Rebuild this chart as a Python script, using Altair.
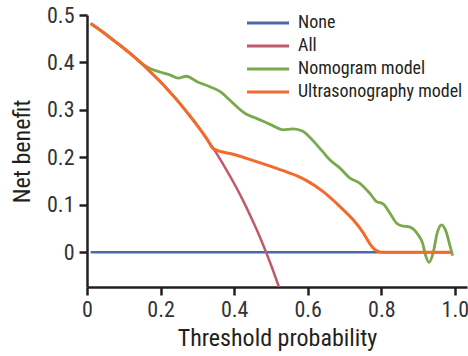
import altair as alt
import pandas as pd

FONT = "Roboto Condensed, Liberation Sans Narrow, Roboto, sans-serif"
INK = "#231F20"

series_names = ["None", "All", "Nomogram model", "Ultrasonography model"]
series_colors = ["#4B6AA8", "#C0596A", "#7AA84C", "#F26B2B"]

x_ticks = [0, 0.2, 0.4, 0.6, 0.8, 1.0]
y_ticks = [0, 0.1, 0.2, 0.3, 0.4, 0.5]

none_t = [0.01, 0.99]
none_nb = [0.0, 0.0]

all_t = [0.01, 0.025, 0.05, 0.075, 0.10, 0.125, 0.15, 0.175, 0.20, 0.225, 0.25,
         0.275, 0.30, 0.325, 0.35, 0.375, 0.40, 0.425, 0.45, 0.475, 0.50, 0.525]
all_nb = [0.482, 0.474, 0.460, 0.445, 0.430, 0.414, 0.397, 0.378, 0.359, 0.338, 0.316,
          0.292, 0.267, 0.240, 0.211, 0.179, 0.145, 0.108, 0.067, 0.023, -0.026, -0.080]

nomo_t = [0.01, 0.025, 0.05, 0.075, 0.10, 0.125, 0.139, 0.17, 0.198, 0.225, 0.248,
          0.270, 0.298, 0.334, 0.361, 0.388, 0.411, 0.429, 0.455, 0.479, 0.505, 0.533,
          0.56, 0.587, 0.605, 0.624, 0.642, 0.66, 0.687, 0.714, 0.741, 0.768, 0.787,
          0.805, 0.823, 0.841, 0.855, 0.878, 0.90, 0.912, 0.921, 0.93, 0.941, 0.952,
          0.964, 0.976, 0.987, 0.994]
nomo_nb = [0.482, 0.474, 0.460, 0.445, 0.430, 0.414, 0.404, 0.388, 0.380, 0.374, 0.367,
           0.371, 0.360, 0.349, 0.339, 0.321, 0.304, 0.293, 0.284, 0.276, 0.267, 0.258,
           0.260, 0.255, 0.243, 0.227, 0.211, 0.195, 0.178, 0.157, 0.146, 0.125, 0.107,
           0.102, 0.083, 0.062, 0.056, 0.053, 0.037, 0.020, -0.008, -0.021, -0.001, 0.041,
           0.058, 0.044, 0.013, -0.007]

us_t = [0.01, 0.025, 0.05, 0.075, 0.10, 0.125, 0.15, 0.175, 0.20, 0.225, 0.25,
        0.275, 0.30, 0.325, 0.344, 0.40, 0.442, 0.50, 0.533, 0.574, 0.597, 0.642,
        0.687, 0.723, 0.751, 0.769, 0.782, 0.796, 0.81, 0.85, 0.90, 0.95, 0.99]
us_nb = [0.482, 0.474, 0.460, 0.445, 0.430, 0.414, 0.397, 0.378, 0.359, 0.338, 0.316,
         0.292, 0.267, 0.240, 0.218, 0.206, 0.196, 0.181, 0.172, 0.160, 0.151, 0.128,
         0.097, 0.069, 0.041, 0.018, 0.006, 0.001, 0.0, 0.0, 0.0, 0.0, 0.0]


def frame(name, t, nb):
    return pd.DataFrame({"t": t, "nb": nb, "model": name})


x_scale = alt.Scale(domain=[0, 1.033], nice=False, zero=False)
y_scale = alt.Scale(domain=[-0.073, 0.5], nice=False, zero=False)
color_scale = alt.Scale(domain=series_names, range=series_colors)

label_expr = "datum.value == 0 ? '0' : format(datum.value, '.1f')"

common_axis = dict(
    domainColor=INK, domainWidth=2.5, tickColor=INK, tickWidth=2.5, tickSize=8,
    labelFont=FONT, labelFontSize=22, labelColor="#333333", labelFlush=False,
    labelOverlap=False, grid=False, titleFont=FONT, titleFontSize=24,
    titleFontWeight="normal", titleColor=INK, labelExpr=label_expr,
)

x_axis = alt.Axis(values=x_ticks, labelPadding=4, titlePadding=6, **common_axis)
y_axis = alt.Axis(values=y_ticks, labelPadding=5, titlePadding=12, **common_axis)

legend = alt.Legend(
    title=None, orient="none", legendX=172, legendY=-1,
    symbolType="M-3,0H3", symbolSize=196, symbolStrokeWidth=3,
    labelFont=FONT, labelFontSize=18, labelColor=INK, labelOffset=21,
    labelLimit=300, rowPadding=5, padding=0,
)


def line(df, width, interp):
    return alt.Chart(df).mark_line(strokeWidth=width, interpolate=interp, clip=True).encode(
        x=alt.X("t:Q", scale=x_scale, axis=x_axis, title="Threshold probability"),
        y=alt.Y("nb:Q", scale=y_scale, axis=y_axis, title="Net benefit"),
        color=alt.Color("model:N", scale=color_scale, legend=legend),
    )


chart = alt.layer(
    line(frame("None", none_t, none_nb), 2.5, "linear"),
    line(frame("All", all_t, all_nb), 2.5, "monotone"),
    line(frame("Nomogram model", nomo_t, nomo_nb), 2.8, "monotone"),
    line(frame("Ultrasonography model", us_t, us_nb), 3, "monotone"),
).properties(
    width=380, height=272, autosize="none",
    padding={"left": 87, "top": 15, "right": 1, "bottom": 69},
    background="white",
).configure_view(stroke=None)

chart.save("out.html", embed_options={"renderer": "svg", "actions": False})
